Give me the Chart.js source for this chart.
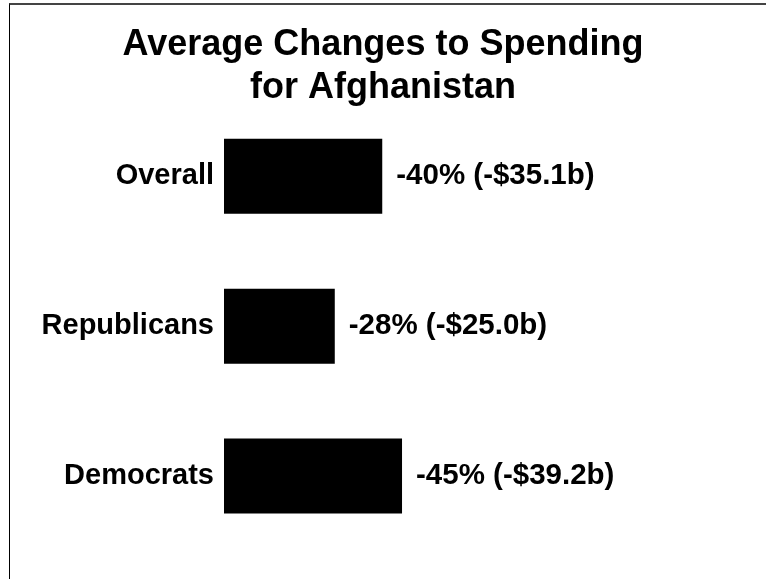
<!DOCTYPE html>
<html>
<head>
<meta charset="utf-8">
<title>Average Changes to Spending for Afghanistan</title>
<script src="https://cdn.jsdelivr.net/npm/chart.js@4"></script>
<style>
  body { margin: 0; background: #fff; }
  #wrap { position: relative; width: 766px; height: 579px; }
  /* the frame of the original picture: top and left edges only */
  #frame { position: absolute; left: 9px; top: 3px; right: 0; bottom: 0;
           border-top: 2px solid #444; border-left: 1px solid #000; }
  #chart { position: absolute; left: 0; top: 0; }
</style>
</head>
<body>
<div id="wrap">
  <div id="frame"></div>
  <canvas id="chart" width="766" height="579"></canvas>
</div>
<script>
// data
const groups = ['Overall', 'Republicans', 'Democrats'];
const pctChange = [-40, -28, -45];          // average change, percent
const dollarChange = [-35.1, -25.0, -39.2]; // average change, billions of dollars

const FONT = '"Liberation Sans", Arial, Helvetica, sans-serif';

function labelText(i) {
    return pctChange[i] + '% (-$' + Math.abs(dollarChange[i]).toFixed(1) + 'b)';
}

// text to the right of each bar
const valueLabels = {
    id: 'valueLabels',
    afterDatasetsDraw(chart) {
        const ctx = chart.ctx;
        const meta = chart.getDatasetMeta(0);
        ctx.save();
        ctx.font = 'bold 29.5px ' + FONT;
        ctx.fillStyle = '#000';
        ctx.textAlign = 'left';
        ctx.textBaseline = 'middle';
        meta.data.forEach(function(bar, i) {
            ctx.fillText(labelText(i), bar.x + 14, bar.y);
        });
        ctx.restore();
    }
};

const ctx = document.getElementById('chart').getContext('2d');
new Chart(ctx, {
    type: 'bar',
    data: {
        labels: groups,
        datasets: [{
            data: pctChange.map(v => Math.abs(v)),
            backgroundColor: '#000',
            borderWidth: 0,
            barPercentage: 1,
            categoryPercentage: 0.5
        }]
    },
    options: {
        indexAxis: 'y',
        responsive: false,
        animation: false,
        layout: { padding: { top: 0, left: 0, right: 0, bottom: 28 } },
        plugins: {
            legend: { display: false },
            tooltip: { enabled: false },
            title: {
                display: true,
                text: ['Average Changes to Spending', 'for Afghanistan'],
                color: '#000',
                font: { family: FONT, size: 36, weight: 'bold', lineHeight: 1.2 },
                padding: { top: 23, bottom: -8 }
            }
        },
        scales: {
            x: {
                display: false,
                min: 0,
                max: 137
            },
            y: {
                grid: { display: false, drawTicks: false },
                border: { display: false },
                ticks: {
                    color: '#000',
                    padding: 10,
                    font: { family: FONT, size: 29, weight: 'bold' }
                },
                afterFit(scale) { scale.width = 224; }
            }
        }
    },
    plugins: [valueLabels]
});
</script>
</body>
</html>
